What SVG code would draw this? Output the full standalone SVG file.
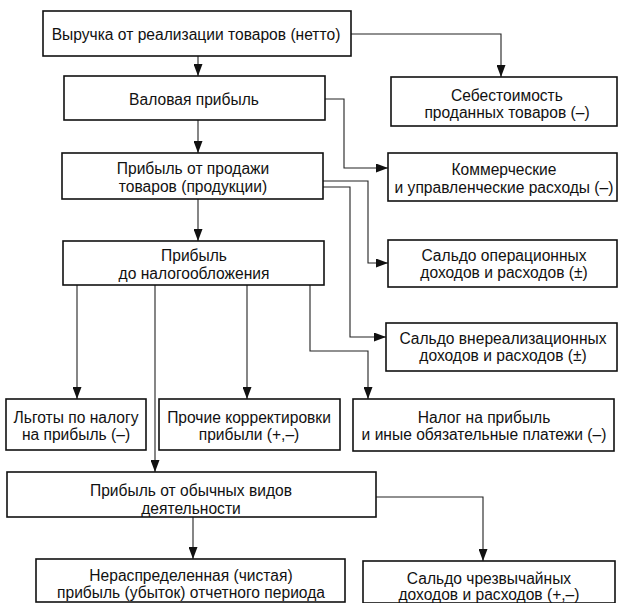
<svg xmlns="http://www.w3.org/2000/svg" width="620" height="603" viewBox="0 0 620 603">
<defs>
<marker id="ah" markerUnits="userSpaceOnUse" markerWidth="12" markerHeight="9" refX="12" refY="4.5" orient="auto">
<path d="M0,0 L12,4.5 L0,9 z" fill="#111"/>
</marker>
<style>
.box{fill:#fff;stroke:#111;stroke-width:1.6}
.t{font-family:"Liberation Sans",Arial,sans-serif;font-size:15.6px;fill:#111;text-anchor:middle}
.c{fill:none;stroke:#222;stroke-width:1.1;marker-end:url(#ah)}
</style>
</defs>
<rect width="620" height="603" fill="#fff"/>
<g id="connectors">
<path class="c" d="M198,56 V76"/>
<path class="c" d="M351,34 H501 V77"/>
<path class="c" d="M198,120 V153"/>
<path class="c" d="M325,99 H344 V168 H388"/>
<path class="c" d="M198,199 V241"/>
<path class="c" d="M323,181 H368 V263 H388"/>
<path class="c" d="M323,187 H350 V337 H386"/>
<path class="c" d="M77,285 V399"/>
<path class="c" d="M155,285 V472"/>
<path class="c" d="M247,285 V399"/>
<path class="c" d="M310,285 V351 H368 V399"/>
<path class="c" d="M193,517 V559"/>
<path class="c" d="M376,497 H483 V561"/>
</g>
<g id="n1"><rect class="box" x="43" y="11" width="308" height="45"/><text class="t" x="196" y="40">Выручка от реализации товаров (нетто)</text></g>
<g id="n2"><rect class="box" x="64" y="76" width="261" height="44"/><text class="t" x="194" y="105">Валовая прибыль</text></g>
<g id="n3"><rect class="box" x="391" y="77" width="226" height="49"/><text class="t" x="507" y="100.5">Себестоимость</text><text class="t" x="507" y="117.5">проданных товаров (–)</text></g>
<g id="n4"><rect class="box" x="62" y="153" width="261" height="46"/><text class="t" x="193" y="173.5">Прибыль от продажи</text><text class="t" x="193" y="191.5">товаров (продукции)</text></g>
<g id="n5"><rect class="box" x="388" y="153" width="229" height="48"/><text class="t" x="504" y="174.5">Коммерческие</text><text class="t" x="504" y="192.5">и управленческие расходы (–)</text></g>
<g id="n6"><rect class="box" x="63" y="241" width="261" height="44"/><text class="t" x="194" y="260.5">Прибыль</text><text class="t" x="194" y="278.5">до налогообложения</text></g>
<g id="n7"><rect class="box" x="388" y="240" width="229" height="47"/><text class="t" x="504" y="260.5">Сальдо операционных</text><text class="t" x="504" y="277.5">доходов и расходов (±)</text></g>
<g id="n8"><rect class="box" x="386" y="323" width="231" height="48"/><text class="t" x="503" y="343.5">Сальдо внереализационных</text><text class="t" x="503" y="360.5">доходов и расходов (±)</text></g>
<g id="n9"><rect class="box" x="6" y="399" width="140" height="51"/><text class="t" x="76" y="422.5">Льготы по налогу</text><text class="t" x="76" y="439.5">на прибыль (–)</text></g>
<g id="n10"><rect class="box" x="159" y="399" width="181" height="51"/><text class="t" x="249" y="422.5">Прочие корректировки</text><text class="t" x="249" y="439.5">прибыли (+,–)</text></g>
<g id="n11"><rect class="box" x="353" y="399" width="261" height="52"/><text class="t" x="484" y="422.5">Налог на прибыль</text><text class="t" x="484" y="439.5">и иные обязательные платежи (–)</text></g>
<g id="n12"><rect class="box" x="7" y="472" width="369" height="45"/><text class="t" x="191" y="495.5">Прибыль от обычных видов</text><text class="t" x="191" y="513.5">деятельности</text></g>
<g id="n13"><rect class="box" x="36" y="559" width="309" height="43"/><text class="t" x="191" y="580.5">Нераспределенная (чистая)</text><text class="t" x="191" y="597.5">прибыль (убыток) отчетного периода</text></g>
<g id="n14"><rect class="box" x="363" y="561" width="252" height="42"/><text class="t" x="489" y="584">Сальдо чрезвычайных</text><text class="t" x="489" y="600">доходов и расходов (+,–)</text></g>
</svg>
